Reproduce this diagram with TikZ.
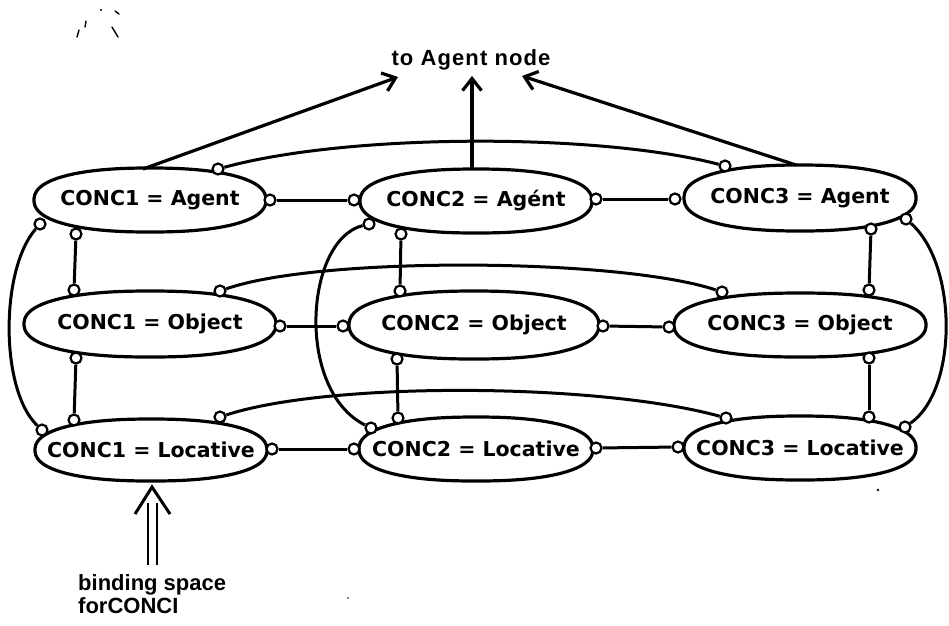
\documentclass[tikz,border=0pt]{standalone}
\usepackage{fontspec}
\setmainfont{Liberation Sans}
\newfontfamily\ovalfont{DejaVu Sans}
\usetikzlibrary{arrows.meta}

% a full oval (superellipse) round a named text node
% #1 name, #2 centre, #3 half width, #4 half height, #5 text
\newcommand\roleoval[5]{%
  \node[ovaltext, minimum width=2*#3pt, minimum height=2*#4pt] (#1) at #2 {#5};
  \begin{scope}[shift={#2}]
    \draw[ovalline] plot[smooth cycle, domain=2.5:357.5, samples=72]
      ({#3*cos(\x)*abs(cos(\x))^(-0.14)}, {#4*sin(\x)*abs(sin(\x))^(-0.14)});
  \end{scope}%
}

\begin{document}
\begin{tikzpicture}[x=1pt,y=-1pt,
  ovaltext/.style={inner sep=0pt,
    font=\ovalfont\bfseries\fontsize{20.5}{24}\selectfont},
  ovalline/.style={line width=3.2pt},
  port/.style={circle, draw, fill=white, line width=2.2pt,
    minimum size=11pt, inner sep=0pt},
  link/.style={line width=3pt},
  uparrow/.style={line width=3.2pt, -{Straight Barb[length=12pt,width=19pt,line width=3.2pt]}},
  caption/.style={font=\bfseries\fontsize{22}{24}\selectfont, inner sep=0pt},
  speck/.style={line width=1.4pt, line cap=round}
]
\useasboundingbox (0,0) rectangle (949,625);

% concept/role binding nodes
\roleoval{c1a}{(150,200)}{116}{32}{CONC1 = Agent}
\roleoval{c2a}{(476,201)}{116}{32}{CONC2 = Agént}
\roleoval{c3a}{(800,198)}{116}{33}{CONC3 = Agent}
\roleoval{c1o}{(150,324)}{126}{33}{CONC1 = Object}
\roleoval{c2o}{(474,325)}{125}{34}{CONC2 = Object}
\roleoval{c3o}{(800,325)}{126}{32}{CONC3 = Object}
\roleoval{c1l}{(151,450)}{116}{31}{CONC1 = Locative}
\roleoval{c2l}{(476,449)}{117}{32}{CONC2 = Locative}
\roleoval{c3l}{(800,448)}{116}{32}{CONC3 = Locative}

% ports: horizontal links within a row
\node[port] (p1ar) at (270,200) {};
\node[port] (p2al) at (354,200) {};
\node[port] (p2ar) at (596,199) {};
\node[port] (p3al) at (675,199) {};
\node[port] (p1or) at (280,326) {};
\node[port] (p2ol) at (343,326) {};
\node[port] (p2or) at (603,326) {};
\node[port] (p3ol) at (669,327) {};
\node[port] (p1lr) at (272,449) {};
\node[port] (p2ll) at (354,449) {};
\node[port] (p2lr) at (596,448) {};
\node[port] (p3ll) at (678,447) {};
% ports: long arcs over each row
\node[port] (q1a) at (218,169) {};
\node[port] (q3a) at (725,166) {};
\node[port] (q1o) at (220,291) {};
\node[port] (q3o) at (722,292) {};
\node[port] (q1l) at (220,417) {};
\node[port] (q3l) at (726,418) {};
% ports: vertical links within a column
\node[port] (v1a)  at (76,234) {};
\node[port] (v1ot) at (74,290) {};
\node[port] (v1ob) at (76,358) {};
\node[port] (v1l)  at (74,420) {};
\node[port] (v2a)  at (401,234) {};
\node[port] (v2ot) at (400,291) {};
\node[port] (v2ob) at (397,359) {};
\node[port] (v2l)  at (398,418) {};
\node[port] (v3a)  at (871,229) {};
\node[port] (v3ot) at (869,290) {};
\node[port] (v3ob) at (869,358) {};
\node[port] (v3l)  at (869,417) {};
% ports: outer arcs from Agent to Locative
\node[port] (o1a) at (40,224) {};
\node[port] (o1l) at (42,430) {};
\node[port] (o3a) at (906,219) {};
\node[port] (o3l) at (905,427) {};
\node[port] (m2a) at (369,224) {};
\node[port] (m2l) at (371,428) {};

% row links
\draw[link] (p1ar) -- (p2al);
\draw[link] (p2ar) -- (p3al);
\draw[link] (p1or) -- (p2ol);
\draw[link] (p2or) -- (p3ol);
\draw[link] (p1lr) -- (p2ll);
\draw[link] (p2lr) -- (p3ll);
\draw[link] (q1a) .. controls (350,133) and (600,133) .. (q3a);
\draw[link] (q1o) .. controls (320,256) and (620,258) .. (q3o);
\draw[link] (q1l) .. controls (330,381) and (600,383) .. (q3l);

% column links
\draw[link] (v1a) -- (v1ot);
\draw[link] (v1ob) -- (v1l);
\draw[link] (v2a) -- (v2ot);
\draw[link] (v2ob) -- (v2l);
\draw[link] (v3a) -- (v3ot);
\draw[link] (v3ob) -- (v3l);
\draw[link] (o1a) .. controls (0,270) and (0,390) .. (o1l);
\draw[link] (o3a) .. controls (958,265) and (958,390) .. (o3l);
\draw[link] (m2a) .. controls (305,240) and (295,390) .. (m2l);

% arrows up to the Agent node
\coordinate (s1) at (143,169);
\coordinate (s2) at (472,169);
\coordinate (s3) at (796,165);
\coordinate (t1) at (398,77);
\coordinate (t2) at (472,76);
\coordinate (t3) at (522,76);
\draw[uparrow] (s1) -- (t1);
\draw[uparrow] (s2) -- (t2);
\draw[uparrow] (s3) -- (t3);
\node[caption, anchor=base, font=\bfseries\fontsize{22}{24}\selectfont\addfontfeatures{LetterSpace=5}]
  (agentlbl) at (471,65) {to Agent node};

% binding space arrow
\coordinate (bl1) at (148,565);
\coordinate (bl2) at (148,503);
\coordinate (br1) at (157,565);
\coordinate (br2) at (157,503);
\coordinate (btip) at (152,487);
\coordinate (bwl) at (135,514);
\coordinate (bwr) at (170,514);
\draw[line width=2.8pt] (bl1) -- (bl2);
\draw[line width=2.8pt] (br1) -- (br2);
\draw[line width=3pt, line join=miter] (bwl) -- (btip) -- (bwr);
\node[caption, anchor=base west] (bind1) at (78,590) {binding space};
\node[caption, anchor=base west] (bind2) at (78,613) {forCONCI};

% specks
\draw[speck] (77,37) -- (79,30);
\draw[speck] (85,27) -- (86,21);
\draw[speck] (112,27) -- (118,37);
\draw[speck] (115,11) -- (119,14);
\fill (101,10) circle (1.1pt);
\fill (878,490) circle (1.3pt);
\fill (348,598) circle (0.9pt);
\end{tikzpicture}
\end{document}
